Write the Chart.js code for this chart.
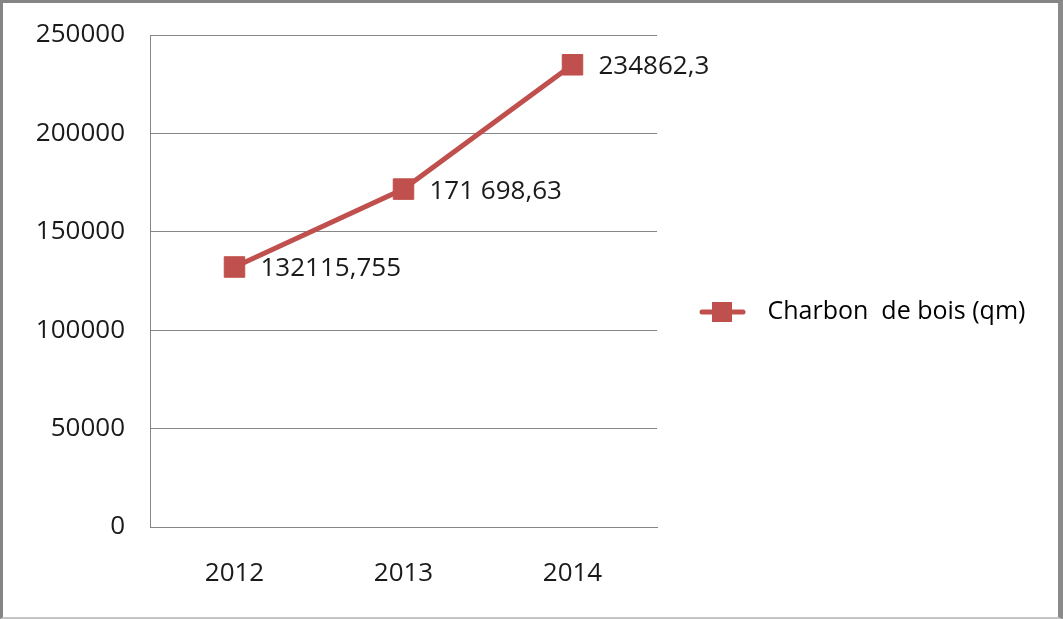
<!DOCTYPE html>
<html>
<head>
<meta charset="utf-8">
<script src="https://cdn.jsdelivr.net/npm/chart.js@4"></script>
<style>
  body { margin: 0; background: #fff; }
  #wrap { position: relative; width: 1063px; height: 619px; }
  #frame {
    position: absolute; left: 0; top: 0; width: 1063px; height: 619px;
    box-sizing: border-box; pointer-events: none;
    border-left: 3px solid #858585; border-top: 3px solid #858585;
    border-right: 5px solid #8a8a8a; border-bottom: 2px solid #c4c4c4;
  }
</style>
</head>
<body>
<div id="wrap">
  <canvas id="chart" width="1063" height="619"></canvas>
  <div id="frame"></div>
</div>
<script>
const years = ["2012", "2013", "2014"];
const charbon = [132115.755, 171698.63, 234862.3];
const charbonLabels = ["132115,755", "171 698,63", "234862,3"];
const seriesName = "Charbon  de bois (qm)";

const red = '#C0504D';
const font = "'Open Sans', sans-serif";

Chart.defaults.font.family = font;
Chart.defaults.font.size = 26;
Chart.defaults.color = '#1a1a1a';

// legend icon: line with a square in the middle
const icon = document.createElement('canvas');
icon.width = 56;
icon.height = 24;
{
  const c = icon.getContext('2d');
  c.strokeStyle = red;
  c.lineWidth = 5;
  c.lineCap = 'round';
  c.beginPath();
  c.moveTo(3, 12);
  c.lineTo(44, 12);
  c.stroke();
  c.fillStyle = red;
  c.fillRect(13, 2, 20, 20);
}

// values written next to the points
const pointLabels = {
  id: 'pointLabels',
  afterDatasetsDraw(chart) {
    const ctx = chart.ctx;
    const meta = chart.getDatasetMeta(0);
    ctx.save();
    ctx.font = '26px ' + font;
    ctx.fillStyle = '#1a1a1a';
    ctx.textAlign = 'left';
    ctx.textBaseline = 'middle';
    meta.data.forEach((pt, i) => {
      ctx.fillText(charbonLabels[i], pt.x + 26, pt.y + 2);
    });
    ctx.restore();
  }
};

// the legend keeps a fixed width so the plot ends where the original does
const legendWidth = {
  id: 'legendWidth',
  afterInit(chart) {
    const lg = chart.legend;
    const fit = lg.fit.bind(lg);
    lg.fit = function () { fit(); this.width = 406; };
  }
};

new Chart(document.getElementById('chart'), {
  type: 'line',
  data: {
    labels: years,
    datasets: [{
      label: seriesName,
      data: charbon,
      borderColor: red,
      backgroundColor: red,
      borderWidth: 5,
      tension: 0,
      pointStyle: 'rect',
      pointRadius: 14.5,
      pointHoverRadius: 14.5,
      pointBorderWidth: 1,
      pointBorderColor: red,
      pointBackgroundColor: red
    }]
  },
  options: {
    responsive: false,
    animation: false,
    layout: { padding: { left: 0, top: 35, right: 0, bottom: 30 } },
    plugins: {
      tooltip: { enabled: false },
      legend: {
        position: 'right',
        labels: {
          usePointStyle: true,
          pointStyleWidth: 56,
          padding: 42,
          color: '#1a1a1a',
          font: { size: 25 },
          generateLabels: (chart) => [{
            text: seriesName,
            pointStyle: icon,
            fillStyle: red,
            strokeStyle: red,
            lineWidth: 0,
            datasetIndex: 0
          }]
        }
      }
    },
    scales: {
      x: {
        offset: true,
        grid: { display: false, drawTicks: false },
        border: { display: true, color: '#868686', width: 1 },
        ticks: { padding: 31 },
        afterFit: (s) => { s.height = 62; }
      },
      y: {
        min: 0,
        max: 250000,
        grid: { color: '#868686', lineWidth: 1, drawTicks: false },
        border: { display: true, color: '#868686', width: 1 },
        ticks: { stepSize: 50000, padding: 25, callback: (v) => String(v) },
        afterFit: (s) => { s.width = 150; s.paddingTop = 0; s.paddingBottom = 0; }
      }
    }
  },
  plugins: [pointLabels, legendWidth]
});
</script>
</body>
</html>
